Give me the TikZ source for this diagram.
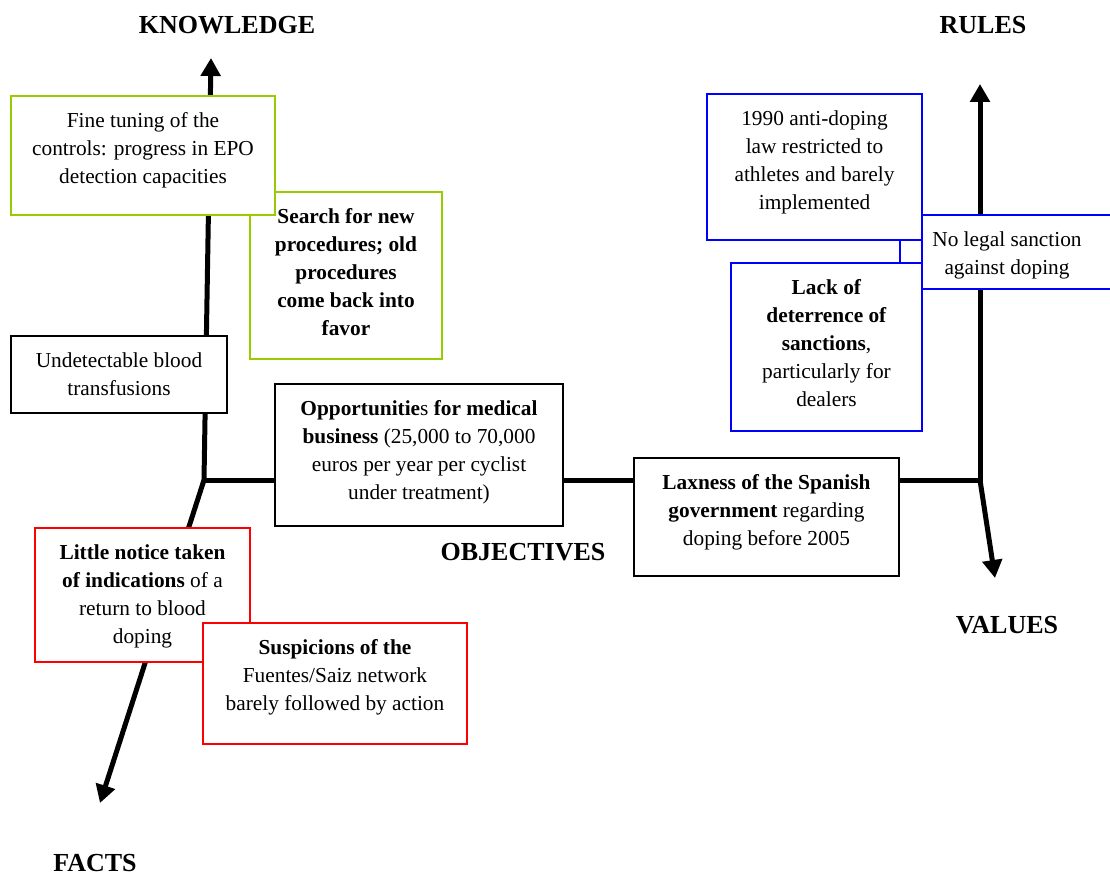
\documentclass[tikz,border=0pt]{standalone}
\usepackage{fontspec}
\setmainfont{Liberation Serif}
\usetikzlibrary{arrows.meta}
\definecolor{ctrlgreen}{RGB}{153,204,0}
\newcommand{\boxtext}[3]{\parbox[c][#2][t]{#1}{\centering\vspace*{9.25pt}\strut #3}}
\tikzset{
  axis/.style={line width=3.75pt, -{Triangle[width=14.5pt,length=13.5pt]}},
  axisline/.style={line width=3.75pt, line cap=rect},
  txtbox/.style={draw, fill=white, line width=1.8pt, inner sep=0pt},
  greenbox/.style={txtbox, draw=ctrlgreen},
  redbox/.style={txtbox, draw=red},
  bluebox/.style={txtbox, draw=blue},
  blackbox/.style={txtbox, draw=black},
  title/.style={font=\fontsize{19.5}{23}\selectfont\bfseries}
}
\begin{document}
\begin{tikzpicture}[x=0.75pt, y=-0.75pt, font=\fontsize{16}{21}\selectfont]
    \useasboundingbox[fill=white] (0,0) rectangle (1110,877);
    % axes
    \coordinate (j1) at (204,480);
    \coordinate (j2) at (980,480);
    \coordinate (knowtip) at (211,58);
    \coordinate (factstip) at (100,803);
    \coordinate (rulestip) at (980,84);
    \coordinate (valuestip) at (995,578);
    \draw[axisline] (j1) -- (j2);
    \draw[axis] (j1) -- (knowtip);
    \draw[axis] (j1) -- (factstip);
    \draw[axis] (j2) -- (rulestip);
    \draw[axis] (j2) -- (valuestip);
    \node[title] (knowledge) at (227,25) {KNOWLEDGE};
    \node[title] (rules) at (983,25) {RULES};
    \node[title] (objectives) at (523,552) {OBJECTIVES};
    \node[title] (values) at (1007,625) {VALUES};
    \node[title] (facts) at (95,863) {FACTS};
    % knowledge side
    \node[greenbox] (search) at (346,275.5) {\boxtext{144pt}{125.25pt}{\bfseries Search for new\\procedures; old\\procedures\\come back into\\favor}};
    \node[greenbox] (tuning) at (143,155.5) {\boxtext{198pt}{89.25pt}{Fine tuning of the\\controls: progress in EPO\\detection capacities}};
    \node[blackbox] (transf) at (119,374.5) {\boxtext{162pt}{57.75pt}{Undetectable blood\\transfusions}};
    % objectives
    \node[blackbox] (business) at (419,455) {\boxtext{216pt}{106.5pt}{\textbf{Opportunitie}s \textbf{for medical}\\\textbf{business} (25,000 to 70,000\\euros per year per cyclist\\under treatment)}};
    \node[blackbox] (laxness) at (766.5,517) {\boxtext{198.75pt}{88.5pt}{\textbf{Laxness of the Spanish}\\\textbf{government} regarding\\doping before 2005}};
    % rules side
    \node[bluebox] (law) at (814.5,167) {\boxtext{161.25pt}{109.5pt}{1990 anti-doping\\law restricted to\\athletes and barely\\implemented}};
    \node[bluebox] (deterrence) at (826.5,347) {\boxtext{143.25pt}{126pt}{\textbf{Lack of}\\\textbf{deterrence of}\\\textbf{sanctions},\\particularly for\\dealers}};
    \node[bluebox] (nosanction) at (1026,252) {\boxtext{127.5pt}{55.5pt}{No legal sanction\\against doping}\rule{28.5pt}{0pt}};
    \draw[blue, line width=1.5pt] ([xshift=-17.25pt]law.south east) -- ([xshift=-17.25pt]law.south east |- deterrence.north);
    % facts side
    \node[redbox] (notice) at (142.5,595) {\boxtext{161.25pt}{100.5pt}{\textbf{Little notice taken}\\\textbf{of indications} of a\\return to blood\\doping}};
    \node[redbox] (suspicion) at (335,683.5) {\boxtext{198pt}{90.75pt}{\textbf{Suspicions of the}\\Fuentes/Saiz network\\barely followed by action}};
\end{tikzpicture}
\end{document}
